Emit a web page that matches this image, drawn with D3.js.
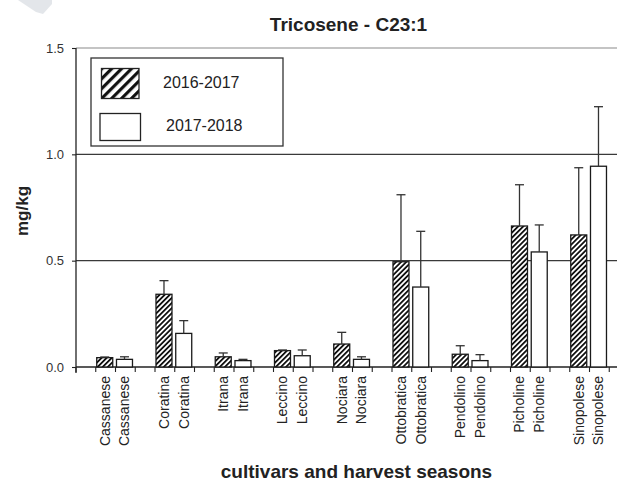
<!DOCTYPE html>
<html>
<head>
<meta charset="utf-8">
<script src="https://cdn.jsdelivr.net/npm/d3@7"></script>
<style>
  html, body { margin: 0; padding: 0; background: #fff; }
  svg { display: block; font-family: "Liberation Sans", Arial, sans-serif; }
</style>
</head>
<body>
<svg id="chart" width="617" height="482"></svg>
<script>
// ---- data ----
const title = "Tricosene - C23:1";
const cultivars = ["Cassanese", "Coratina", "Itrana", "Leccino", "Nociara", "Ottobratica", "Pendolino", "Picholine", "Sinopolese"];
const seasons = ["2016-2017", "2017-2018"];
const values2016 = [0.044, 0.342, 0.048, 0.077, 0.108, 0.495, 0.060, 0.663, 0.621];
const errors2016 = [0.003, 0.064, 0.018, 0.003, 0.055, 0.315, 0.040, 0.194, 0.316];
const values2017 = [0.036, 0.158, 0.030, 0.053, 0.036, 0.376, 0.030, 0.541, 0.944];
const errors2017 = [0.012, 0.060, 0.006, 0.027, 0.012, 0.262, 0.028, 0.127, 0.280];
const yTicks = [0, 0.5, 1.0, 1.5];
const gridValues = [0.5, 1.0, 1.5];
const yLabel = "mg/kg";
const xLabel = "cultivars and harvest seasons";

// ---- build table ----
const rows = [];
cultivars.forEach((c, i) => {
  rows.push({ cultivar: c, season: seasons[0], value: values2016[i], err: errors2016[i] });
  rows.push({ cultivar: c, season: seasons[1], value: values2017[i], err: errors2017[i] });
});

const svg = d3.select("#chart");
const W = 617, H = 482;

// watermark corner artifact
svg.append("path")
  .attr("d", "M18,0 L52,0 L52,4 L43,14 L36,12 Z")
  .attr("fill", "#e3e6ea");

const x0 = 76, x1 = 629, yTop = 48, yBot = 367;
const x = d3.scaleBand().domain(cultivars).range([x0, x1]).paddingInner(1 / 3).paddingOuter(1 / 3);
const xs = d3.scaleBand().domain(seasons).range([0, x.bandwidth()]);
const y = d3.scaleLinear().domain([0, 1.5]).range([yBot, yTop]);

const defs = svg.append("defs");
const pat = defs.append("pattern")
  .attr("id", "hatch").attr("patternUnits", "userSpaceOnUse")
  .attr("width", 3.6).attr("height", 3.6)
  .attr("patternTransform", "rotate(45)");
pat.append("rect").attr("width", 3.6).attr("height", 3.6).attr("fill", "#fff");
pat.append("rect").attr("width", 1.8).attr("height", 3.6).attr("fill", "#111");

const pat2 = defs.append("pattern")
  .attr("id", "hatchLegend").attr("patternUnits", "userSpaceOnUse")
  .attr("width", 7).attr("height", 7)
  .attr("patternTransform", "rotate(45)");
pat2.append("rect").attr("width", 7).attr("height", 7).attr("fill", "#fff");
pat2.append("rect").attr("width", 3.2).attr("height", 7).attr("fill", "#111");

// grid lines
svg.append("g").selectAll("line").data(gridValues).join("line")
  .attr("x1", x0).attr("x2", W)
  .attr("y1", d => y(d)).attr("y2", d => y(d))
  .attr("stroke", d => d === 1.5 ? "#8a8a8a" : "#3a3a3a")
  .attr("stroke-width", 1.2);

// x axis line
svg.append("line").attr("x1", x0).attr("x2", W).attr("y1", yBot).attr("y2", yBot)
  .attr("stroke", "#222").attr("stroke-width", 1.3);

// x ticks at slot boundaries
const slot = x.step() / 3;
const nSlots = Math.round((x1 - x0) / slot);
svg.append("g").selectAll("line").data(d3.range(0, nSlots + 1)).join("line")
  .attr("x1", k => x0 + k * slot).attr("x2", k => x0 + k * slot)
  .attr("y1", yBot).attr("y2", yBot + 5)
  .attr("stroke", "#222").attr("stroke-width", 1.1);

// y axis
const yAxis = svg.append("g").attr("transform", `translate(${x0},0)`)
  .call(d3.axisLeft(y).tickValues(yTicks).tickFormat(d3.format(".1f")).tickSize(4).tickPadding(8));
yAxis.select(".domain").attr("d", `M0,${yTop}V${yBot + 6}`).attr("stroke", "#222").attr("stroke-width", 1.3);
yAxis.selectAll(".tick line").attr("stroke", "#222").attr("stroke-width", 1.1);
yAxis.selectAll(".tick text").attr("font-size", 13).attr("fill", "#333")
  .attr("font-family", "'Liberation Sans', Arial, sans-serif");

// bars
const bw = xs.step() * 0.81, boff = xs.step() * 0.05;
const bx = d => x(d.cultivar) + xs(d.season) + boff;
svg.append("g").selectAll("rect").data(rows).join("rect")
  .attr("x", bx).attr("width", bw)
  .attr("y", d => y(d.value)).attr("height", d => y(0) - y(d.value))
  .attr("fill", d => d.season === seasons[0] ? "url(#hatch)" : "#fff")
  .attr("stroke", "#1a1a1a").attr("stroke-width", 1.3);

// error bars
const eb = svg.append("g").attr("stroke", "#333").attr("stroke-width", 1.3);
eb.selectAll("line.v").data(rows).join("line").attr("class", "v")
  .attr("x1", d => bx(d) + bw / 2).attr("x2", d => bx(d) + bw / 2)
  .attr("y1", d => y(d.value)).attr("y2", d => y(d.value + d.err));
eb.selectAll("line.c").data(rows).join("line").attr("class", "c")
  .attr("x1", d => bx(d) + bw / 2 - 4.5).attr("x2", d => bx(d) + bw / 2 + 4.5)
  .attr("y1", d => y(d.value + d.err)).attr("y2", d => y(d.value + d.err));

// category labels
svg.append("g").selectAll("text").data(rows).join("text")
  .attr("transform", d => `translate(${bx(d) + bw / 2},376) rotate(-90)`)
  .attr("text-anchor", "end").attr("dy", "0.35em")
  .attr("font-size", 14).attr("fill", "#222")
  .text(d => d.cultivar);

// legend
const lg = svg.append("g");
lg.append("rect").attr("x", 91).attr("y", 58).attr("width", 192).attr("height", 88)
  .attr("fill", "#fff").attr("stroke", "#333").attr("stroke-width", 1.3);
lg.append("rect").attr("x", 101.5).attr("y", 68.5).attr("width", 37.5).attr("height", 30)
  .attr("fill", "url(#hatchLegend)").attr("stroke", "#222").attr("stroke-width", 1.3);
lg.append("rect").attr("x", 100).attr("y", 113.5).attr("width", 40.5).attr("height", 27)
  .attr("fill", "#fff").attr("stroke", "#222").attr("stroke-width", 1.3);
lg.append("text").attr("x", 163).attr("y", 87.5).attr("font-size", 16).attr("fill", "#222").text(seasons[0]);
lg.append("text").attr("x", 166).attr("y", 131).attr("font-size", 16).attr("fill", "#222").text(seasons[1]);

// titles
svg.append("text").attr("x", 348.5).attr("y", 31).attr("text-anchor", "middle")
  .attr("font-size", 19).attr("font-weight", "bold").attr("fill", "#222").text(title);
svg.append("text").attr("x", 356.5).attr("y", 478).attr("text-anchor", "middle")
  .attr("font-size", 19).attr("font-weight", "bold").attr("fill", "#222").text(xLabel);
svg.append("text").attr("transform", "translate(28,211) rotate(-90)").attr("text-anchor", "middle")
  .attr("font-size", 17).attr("font-weight", "bold").attr("fill", "#222").text(yLabel);
</script>
</body>
</html>
